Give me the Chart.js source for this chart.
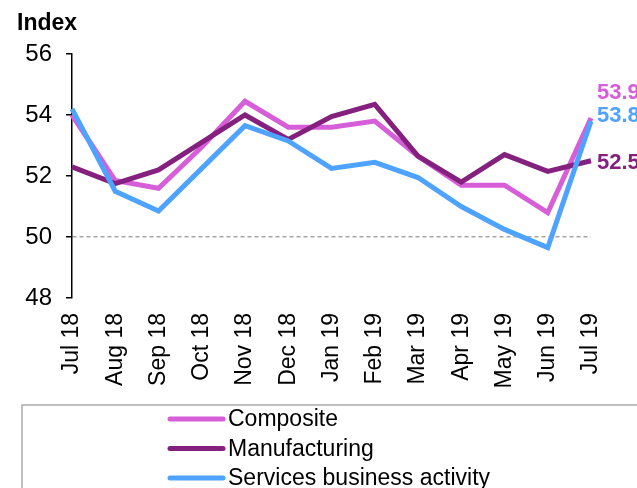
<!DOCTYPE html>
<html>
<head>
<meta charset="utf-8">
<script src="https://cdn.jsdelivr.net/npm/chart.js@4"></script>
<style>
  html, body { margin: 0; padding: 0; background: #fff; }
  #wrap { width: 637px; height: 488px; }
</style>
</head>
<body>
<div id="wrap"><canvas id="pmiChart"></canvas></div>
<script>
// Datos
const meses = ['Jul 18', 'Aug 18', 'Sep 18', 'Oct 18', 'Nov 18', 'Dec 18', 'Jan 19',
               'Feb 19', 'Mar 19', 'Apr 19', 'May 19', 'Jun 19', 'Jul 19'];
const composite = [54.0, 51.85, 51.6, 52.95, 54.45, 53.6, 53.6, 53.8, 52.65, 51.7, 51.7, 50.8, 53.9];
const manufacturing = [52.3, 51.75, 52.2, 53.1, 54.0, 53.2, 53.95, 54.35, 52.65, 51.8, 52.7, 52.15, 52.5];
const services = [54.2, 51.5, 50.85, 52.25, 53.65, 53.15, 52.25, 52.45, 51.95, 51.0, 50.25, 49.65, 53.8];
const nombresSeries = ['Composite', 'Manufacturing', 'Services business activity'];
const yTicks = [48, 50, 52, 54, 56];

const colores = ['#D65ED8', '#84207E', '#4DA3FF'];
const desplazamientoEtiqueta = [-25, 2, -5]; // ajuste vertical de las etiquetas finales

// Etiquetas con el último valor + leyenda en caja
const extrasPlugin = {
    id: 'extras',
    afterDatasetsDraw(chart) {
        const ctx = chart.ctx;
        const yScale = chart.scales.y;
        ctx.save();
        ctx.font = 'bold 22px "Liberation Sans", Arial, sans-serif';
        ctx.textBaseline = 'middle';
        ctx.textAlign = 'left';
        chart.data.datasets.forEach((ds, i) => {
            const meta = chart.getDatasetMeta(i);
            const last = ds.data.length - 1;
            const pt = meta.data[last];
            ctx.fillStyle = ds.borderColor;
            ctx.fillText(ds.data[last].toFixed(1), pt.x + 6,
                yScale.getPixelForValue(ds.data[last]) + desplazamientoEtiqueta[i]);
        });

        // Leyenda
        ctx.strokeStyle = '#ABABAB';
        ctx.lineWidth = 1.5;
        ctx.strokeRect(22, 405, 640, 120);
        ctx.font = '23px "Liberation Sans", Arial, sans-serif';
        chart.data.datasets.forEach((ds, i) => {
            const y = 419 + i * 29.5;
            ctx.strokeStyle = ds.borderColor;
            ctx.lineWidth = 5;
            ctx.lineCap = 'round';
            ctx.beginPath();
            ctx.moveTo(170, y);
            ctx.lineTo(223, y);
            ctx.stroke();
            ctx.fillStyle = '#000';
            ctx.fillText(ds.label, 228, y + 1);
        });
        ctx.restore();
    }
};

const ctx = document.getElementById('pmiChart').getContext('2d');
new Chart(ctx, {
    type: 'line',
    data: {
        labels: meses,
        datasets: [
            { label: nombresSeries[0], data: composite, borderColor: colores[0], order: 3 },
            { label: nombresSeries[1], data: manufacturing, borderColor: colores[1], order: 2 },
            { label: nombresSeries[2], data: services, borderColor: colores[2], order: 1 }
        ].map(d => Object.assign(d, {
            borderWidth: 5,
            pointRadius: 0,
            tension: 0,
            fill: false
        }))
    },
    options: {
        responsive: true,
        maintainAspectRatio: false,
        animation: false,
        layout: { padding: { left: 17, right: 46, top: 0, bottom: 90 } },
        plugins: {
            legend: { display: false },
            tooltip: { enabled: false },
            title: {
                display: true,
                text: 'Index',
                align: 'start',
                color: '#000',
                font: { family: '"Liberation Sans", Arial, sans-serif', size: 23, weight: 'bold', lineHeight: 1.2 },
                padding: { top: 10, bottom: 16.4 }
            }
        },
        scales: {
            x: {
                offset: false,
                grid: { display: false, drawTicks: false },
                border: { display: false },
                ticks: {
                    autoSkip: false,
                    minRotation: 90,
                    maxRotation: 90,
                    padding: 15,
                    color: '#000',
                    font: { family: '"Liberation Sans", Arial, sans-serif', size: 23 }
                },
                afterFit(scale) { scale.height = 100; }
            },
            y: {
                min: 48,
                max: 56,
                afterBuildTicks(scale) { scale.ticks = yTicks.map(v => ({ value: v })); },
                grid: {
                    color: c => (c.tick && c.tick.value === 50) ? '#A6A6A6' : 'rgba(0,0,0,0)',
                    lineWidth: 1.5,
                    tickColor: '#000',
                    tickLength: 6,
                    tickWidth: 1.5
                },
                border: { display: true, color: '#000', width: 1.5, dash: [4, 3] },
                ticks: {
                    padding: 14,
                    color: '#000',
                    font: { family: '"Liberation Sans", Arial, sans-serif', size: 24 }
                },
                afterFit(scale) { scale.width = 55; }
            }
        }
    },
    plugins: [extrasPlugin]
});
</script>
</body>
</html>
